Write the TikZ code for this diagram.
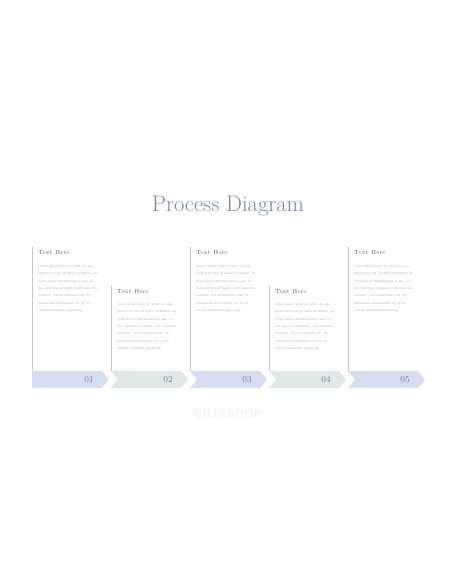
\documentclass[tikz,border=0pt]{standalone}
\definecolor{chevblue}{RGB}{214,221,240}
\definecolor{chevgreen}{RGB}{222,232,229}
\definecolor{titleblue}{RGB}{118,136,174}
\definecolor{headgray}{RGB}{90,102,132}
\definecolor{bodygray}{RGB}{176,180,190}
\definecolor{linegray}{RGB}{196,198,206}
\definecolor{numgray}{RGB}{112,124,152}
\definecolor{markgray}{RGB}{243,243,245}
\newcommand{\loremtext}{Lorem ipsum dolor sit amet, no sale\\Illum error eos, id iudico scribentur ad.\\Vitae dolore theophrastus in sea. Cu\\duo oportere antiopam, nam iracundia\\molestie. Vis te partiendo mei. Ut\\adolescens definitionem vix, pri te\\veniam honestatis adipiscing.}
\begin{document}
\begin{tikzpicture}
[every node/.style={inner sep=0pt},
 steplabel/.style={font=\fontsize{9}{9}\selectfont, text=numgray},
 headtext/.style={anchor=west, font=\fontsize{5.9}{7}\selectfont, text=headgray},
 bodytext/.style={anchor=north west, align=left, font=\fontsize{3.45}{7.3}\sffamily\selectfont, text=bodygray},
 guide/.style={line width=0.8pt, color=linegray}]
\useasboundingbox [fill=white] (0pt, 0pt) rectangle (456pt, -586pt);
% title
\node (title) [font=\fontsize{22.5}{26}\selectfont, text=titleblue] at (228pt, -206pt) {Process Diagram};
% chevrons
\fill [chevblue] (32pt, -371pt) -- (102pt, -371pt) -- (109pt, -379.5pt) -- (102pt, -388pt) -- (32pt, -388pt) -- cycle;
\foreach \i/\c in {2/chevgreen, 3/chevblue, 4/chevgreen, 5/chevblue} {
  \pgfmathsetmacro{\xo}{32+79*(\i-1)}
  \fill [\c] ({\xo*1pt}, -371pt) -- ({(\xo+70)*1pt}, -371pt) -- ({(\xo+77)*1pt}, -379.5pt) -- ({(\xo+70)*1pt}, -388pt)
    -- ({\xo*1pt}, -388pt) -- ({(\xo+7)*1pt}, -379.5pt) -- cycle;
}
\node (n1) [steplabel] at (89pt, -379.5pt) {01};
\node (n2) [steplabel] at (168pt, -379.5pt) {02};
\node (n3) [steplabel] at (247pt, -379.5pt) {03};
\node (n4) [steplabel] at (326pt, -379.5pt) {04};
\node (n5) [steplabel] at (405pt, -379.5pt) {05};
% guide lines
\coordinate (l1) at (32pt, -247pt);
\coordinate (l2) at (111pt, -285pt);
\coordinate (l3) at (190pt, -247pt);
\coordinate (l4) at (269pt, -285pt);
\coordinate (l5) at (348pt, -247pt);
\foreach \i in {1,...,5}
  \draw [guide] (l\i) -- (l\i |- 0pt, -371pt);
% texts
\node (h1) [headtext] at (38pt, -253pt) {Text Here};
\node (h2) [headtext] at (117pt, -292pt) {Text Here};
\node (h3) [headtext] at (196pt, -253pt) {Text Here};
\node (h4) [headtext] at (275pt, -292pt) {Text Here};
\node (h5) [headtext] at (354pt, -253pt) {Text Here};
\node (b1) [bodytext] at (38pt, -265pt) {\loremtext};
\node (b2) [bodytext] at (117pt, -303pt) {\loremtext};
\node (b3) [bodytext] at (196pt, -265pt) {\loremtext};
\node (b4) [bodytext] at (275pt, -303pt) {\loremtext};
\node (b5) [bodytext] at (354pt, -265pt) {\loremtext};
% watermark
\node (mark) [font=\fontsize{12}{12}\sffamily\bfseries\selectfont, text=markgray] at (228pt, -413pt) {GILLLSHOP};
\end{tikzpicture}
\end{document}
